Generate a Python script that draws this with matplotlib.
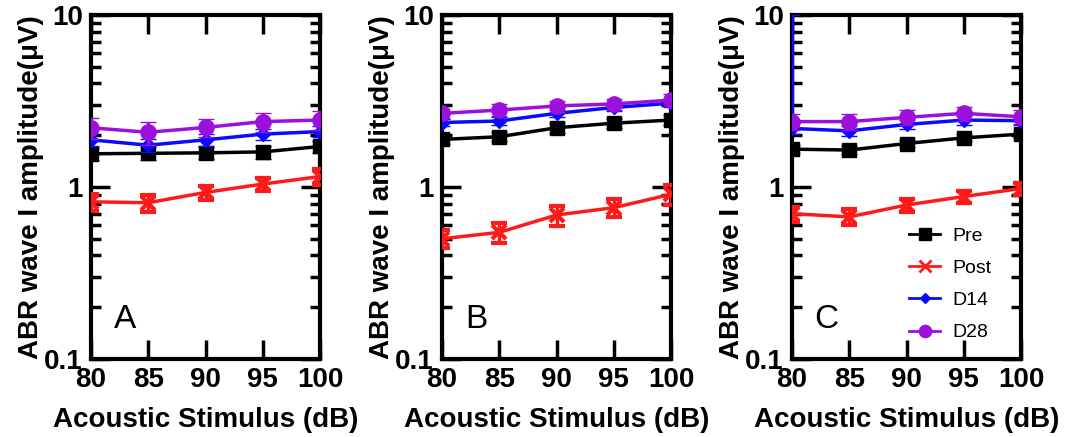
import matplotlib
matplotlib.use("Agg")
import matplotlib.pyplot as plt
from matplotlib.lines import Line2D
import numpy as np
from matplotlib.ticker import LogLocator, FixedLocator, NullFormatter

plt.rcParams['font.family'] = ['Liberation Sans', 'DejaVu Sans']

stim = [80, 85, 90, 95, 100]
series_names = ["Pre", "Post", "D14", "D28"]
panel_labels = ["A", "B", "C"]

# Panel A
a_pre = [1.56, 1.57, 1.58, 1.60, 1.72]
a_pre_err = [0.13, 0.13, 0.13, 0.14, 0.14]
a_post = [0.82, 0.81, 0.93, 1.04, 1.15]
a_post_err = [0.09, 0.09, 0.09, 0.09, 0.12]
a_d14 = [1.88, 1.75, 1.88, 2.03, 2.10]
a_d14_err = [0.15, 0.15, 0.15, 0.15, 0.15]
a_d28 = [2.21, 2.08, 2.22, 2.40, 2.45]
a_d28_err = [0.30, 0.32, 0.28, 0.30, 0.30]

# Panel B
b_pre = [1.89, 1.96, 2.21, 2.35, 2.45]
b_pre_err = [0.12, 0.12, 0.14, 0.14, 0.16]
b_post = [0.50, 0.545, 0.687, 0.758, 0.907]
b_post_err = [0.06, 0.07, 0.09, 0.09, 0.12]
b_d14 = [2.37, 2.42, 2.68, 2.90, 3.07]
b_d14_err = [0.12, 0.12, 0.14, 0.14, 0.15]
b_d28 = [2.68, 2.80, 2.96, 3.04, 3.20]
b_d28_err = [0.15, 0.22, 0.22, 0.22, 0.25]

# Panel C
c_pre = [1.66, 1.64, 1.79, 1.93, 2.03]
c_pre_err = [0.09, 0.08, 0.09, 0.09, 0.10]
c_post = [0.70, 0.67, 0.786, 0.88, 0.98]
c_post_err = [0.07, 0.07, 0.07, 0.07, 0.08]
c_d14 = [2.19, 2.12, 2.31, 2.45, 2.43]
c_d14_err_low = [0.15, 0.15, 0.15, 0.15, 0.15]
c_d14_err_high = [7.81, 0.15, 0.15, 0.15, 0.15]
c_d28 = [2.40, 2.40, 2.54, 2.68, 2.56]
c_d28_err = [0.25, 0.25, 0.25, 0.25, 0.25]

panels = [
    (a_pre, a_pre_err, a_post, a_post_err, a_d14, a_d14_err, a_d28, a_d28_err),
    (b_pre, b_pre_err, b_post, b_post_err, b_d14, b_d14_err, b_d28, b_d28_err),
    (c_pre, c_pre_err, c_post, c_post_err, c_d14, [c_d14_err_low, c_d14_err_high], c_d28, c_d28_err),
]

colors = ["black", "#ff1a1a", "#0a0aff", "#9b10dc"]
markers = ["s", "x", "D", "o"]
msizes = [10, 10, 7, 11]

fig = plt.figure(figsize=(10.67, 4.37), dpi=100)
W, H = 1067, 437
lefts = [91, 442, 792]
ax_w, top_px, bot_px = 229, 15, 359

for i, (pdata, lab) in enumerate(zip(panels, panel_labels)):
    ax = fig.add_axes([lefts[i] / W, 1 - bot_px / H, ax_w / W, (bot_px - top_px) / H])
    for k in range(4):
        y = pdata[2 * k]
        e = pdata[2 * k + 1]
        ax.errorbar(stim, y, yerr=e, color=colors[k], marker=markers[k],
                    markersize=msizes[k], markeredgewidth=3 if k == 1 else 1,
                    linewidth=2.5, elinewidth=2.5, capsize=6, capthick=2.5,
                    label=series_names[k], zorder=3 + k)
    ax.set_yscale('log')
    ax.set_ylim(0.1, 10)
    ax.set_xlim(80, 100)
    ax.set_xticks(stim)
    ax.yaxis.set_major_locator(FixedLocator([0.1, 1, 10]))
    ax.set_yticklabels(["0.1", "1", "10"])
    ax.yaxis.set_minor_locator(LogLocator(base=10, subs=np.arange(2, 10)))
    ax.yaxis.set_minor_formatter(NullFormatter())
    ax.tick_params(axis='both', which='major', direction='in', length=14, width=2.5,
                   labelsize=20, top=True, right=True, pad=6)
    ax.tick_params(axis='y', which='minor', direction='in', length=7, width=2.5,
                   right=True, left=True)
    for lbl in ax.get_xticklabels() + ax.get_yticklabels():
        lbl.set_fontweight('bold')
    for s in ax.spines.values():
        s.set_linewidth(3)
    ax.set_xlabel("Acoustic Stimulus (dB)", fontsize=20, fontweight='bold', labelpad=10)
    ax.set_ylabel("ABR wave I amplitude(\u03bcV)", fontsize=20, fontweight='bold', labelpad=0)
    ax.text(83, 0.17, lab, fontsize=24, ha='center', va='center')
    if i == 2:
        handles = [Line2D([], [], color=colors[k], marker=markers[k],
                          markersize=msizes[k] * 0.8, linewidth=2,
                          markeredgewidth=2 if k == 1 else 1)
                   for k in range(4)]
        leg = ax.legend(handles=handles, labels=series_names, loc='upper left',
                        bbox_to_anchor=(883 / W, 1 - 201 / H),
                        bbox_transform=fig.transFigure, fontsize=14,
                        frameon=True, fancybox=False, framealpha=0,
                        edgecolor='#cccccc', handlelength=1.6,
                        labelspacing=0.75, borderpad=1.35, borderaxespad=0,
                        handletextpad=0.6)
        leg.get_frame().set_linewidth(0.8)
        leg.set_zorder(1)

fig.savefig("out.png", dpi=100)
